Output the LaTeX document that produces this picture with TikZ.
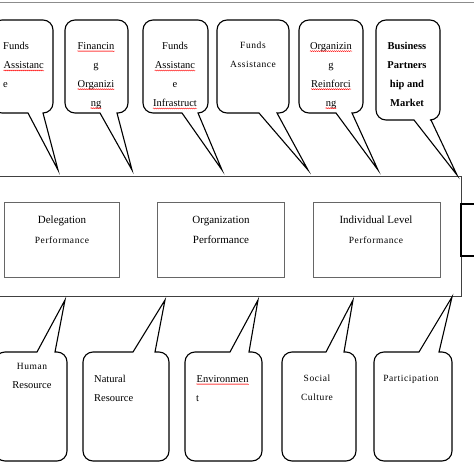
\documentclass[tikz,border=0pt]{standalone}
\usepackage{fontspec}
\setmainfont{Liberation Serif}
\usetikzlibrary{decorations.pathmorphing}
\newcommand\redwave[1]{\tikz[baseline = (w.base)]{\node [inner sep = 0pt] (w) {#1}; \draw [red, line width = 0.4pt, decorate, decoration = {snake, amplitude = 0.5pt, segment length = 2pt}] ([yshift = -2pt]w.base west) -- ([yshift = -2pt]w.base east);}}
\newcommand\spaced{\fontsize{9.5}{19}\selectfont\addfontfeature{LetterSpace=6}}
\tikzset{
  bubble/.style = {draw = black, line width = 1.1pt, fill = white},
  bubbletext/.style = {inner sep = 0pt, anchor = north, font = \fontsize{10.5}{19}\selectfont},
  framebox/.style = {draw = black!75, line width = 0.9pt},
  levelbox/.style = {draw = black!60, line width = 0.9pt, inner sep = 0pt, anchor = north west},
  leveltext/.style = {inner sep = 0pt, anchor = north, align = center, font = \fontsize{11}{20}\selectfont}
}
\begin{document}
\begin{tikzpicture}[x = 1pt, y = -1pt]
\useasboundingbox (0,0) rectangle (474,474);
\draw [draw = black!45, line width = 0.8pt] (0,2.5) -- (474,2.5);
\draw [framebox] (-5,176) rectangle (461,296);
\draw [draw = black, line width = 1.4pt] (482,204) -- (461,204) -- (461,256) -- (482,256);
\node [levelbox, minimum width = 115pt, minimum height = 75pt] (delegationbox) at (4,202) {};
\node [levelbox, minimum width = 127pt, minimum height = 75pt] (organizationbox) at (157,202) {};
\node [levelbox, minimum width = 127pt, minimum height = 75pt] (individualbox) at (313,202) {};
\node [leveltext] (delegation) at (62,216) {Delegation\\{\spaced Performance}};
\node [leveltext] (organization) at (221,216) {Organization\\Performance};
\node [leveltext] (individual) at (376,216) {Individual Level\\{\spaced Performance}};
\foreach \xl/\xr/\ye/\yf/\ba/\bb/\tipx/\tipy in {
  -8/53/113/20/28/43/58/170, 65/128/113/20/100/117/132/170,
  143/208/113/20/182/198/222/170, 217/289/113/20/259/277/308/170,
  299/363/113/20/336/352/378/170, 376/440/120/20/414/431/457/175,
  -5/67/352/461/37/55/65/300, 83/169/352/461/133/155/165/300,
  185/262/352/461/230/249/258/300, 282/356/352/461/326/344/353/300,
  374/452/352/461/419/439/452/297}
  \draw [bubble] (\bb,\ye) -- (\tipx,\tipy) -- (\ba,\ye) [rounded corners = 10pt] -- (\xl,\ye) -- (\xl,\yf) -- (\xr,\yf) -- (\xr,\ye) [sharp corners] -- (\bb,\ye) -- cycle;
\node [bubbletext, anchor = north west, align = left] (fundsone) at (3,42) {Funds\\\redwave{Assistanc}\\e};
\node [bubbletext, align = center] (financing) at (96,42) {\redwave{Financin}\\g\\\redwave{Organizi}\\\redwave{ng}};
\node [bubbletext, align = center] (fundstwo) at (175,42) {Funds\\\redwave{Assistanc}\\e\\\redwave{Infrastruct}};
\node [bubbletext, align = center] (fundsthree) at (253,42) {\spaced Funds\\\spaced Assistance};
\node [bubbletext, align = center] (organizing) at (331,42) {\redwave{Organizin}\\g\\\redwave{Reinforci}\\\redwave{ng}};
\node [bubbletext, align = center, font = \fontsize{10.5}{19}\selectfont\bfseries] (business) at (407,42) {Business\\Partners\\hip and\\Market};
\node [bubbletext, align = center] (human) at (32,363) {\spaced Human\\Resource};
\node [bubbletext, anchor = north west, align = left] (natural) at (94,375) {Natural\\Resource};
\node [bubbletext, anchor = north west, align = left] (environment) at (196,375) {\redwave{Environmen}\\t};
\node [bubbletext, align = center] (social) at (317,375) {\spaced Social\\\spaced Culture};
\node [bubbletext, align = center] (participation) at (411,375) {\spaced Participation};
\end{tikzpicture}
\end{document}
